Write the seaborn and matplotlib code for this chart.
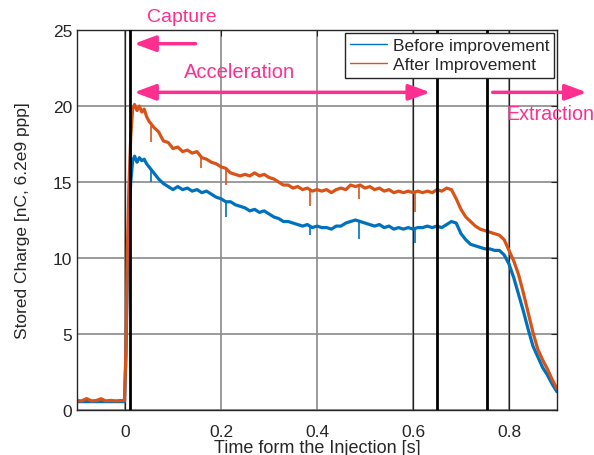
import numpy as np
import pandas as pd
import matplotlib
matplotlib.use("Agg")
import matplotlib.pyplot as plt
import seaborn as sns
from matplotlib.patches import ArrowStyle

# time axis [s]
time_s = [-0.100, -0.090, -0.080, -0.070, -0.060, -0.050, -0.040, -0.030, -0.020, -0.010, -0.001,
          0.002, 0.005, 0.008, 0.012, 0.016, 0.020, 0.025, 0.030, 0.035, 0.040, 0.045, 0.050,
          0.06, 0.07, 0.08, 0.09, 0.10, 0.11, 0.12, 0.13, 0.14, 0.15,
          0.16, 0.17, 0.18, 0.19, 0.20, 0.21, 0.22, 0.23, 0.24, 0.25,
          0.26, 0.27, 0.28, 0.29, 0.30, 0.31, 0.32, 0.33, 0.34, 0.35,
          0.36, 0.37, 0.38, 0.39, 0.40, 0.41, 0.42, 0.43, 0.44, 0.45,
          0.46, 0.47, 0.48, 0.49, 0.50, 0.51, 0.52, 0.53, 0.54, 0.55,
          0.56, 0.57, 0.58, 0.59, 0.60, 0.61, 0.62, 0.63, 0.64, 0.65,
          0.66, 0.67, 0.68, 0.69, 0.70, 0.71, 0.72, 0.73, 0.74, 0.75,
          0.76, 0.77, 0.78, 0.79, 0.80, 0.81, 0.82, 0.83, 0.84, 0.85,
          0.86, 0.87, 0.88, 0.89, 0.90]

before = [0.55, 0.55, 0.55, 0.55, 0.55, 0.55, 0.55, 0.55, 0.55, 0.55, 0.55,
          3.5, 9.0, 12.5, 15.0, 16.4, 16.7, 16.3, 16.6, 16.4, 16.5, 16.2, 16.0,
          15.6, 15.2, 14.9, 14.7, 14.5, 14.7, 14.5, 14.6, 14.4, 14.5,
          14.3, 14.4, 14.2, 14.0, 13.9, 13.7, 13.7, 13.5, 13.4, 13.3,
          13.1, 13.2, 13.0, 13.1, 12.9, 12.7, 12.6, 12.4, 12.4, 12.3,
          12.2, 12.1, 12.2, 12.0, 12.1, 12.0, 12.0, 11.9, 12.1, 12.1,
          12.3, 12.4, 12.5, 12.4, 12.3, 12.2, 12.1, 12.2, 12.0, 12.1,
          11.9, 12.0, 11.9, 12.0, 11.9, 12.0, 12.0, 12.1, 12.0, 12.1,
          12.0, 12.2, 12.4, 12.3, 11.6, 11.2, 10.9, 10.8, 10.7, 10.6,
          10.6, 10.5, 10.5, 10.2, 9.6, 8.7, 7.6, 6.5, 5.3, 4.2,
          3.5, 2.8, 2.3, 1.7, 1.2]

after = [0.62, 0.60, 0.75, 0.60, 0.62, 0.74, 0.60, 0.63, 0.60, 0.62, 0.62,
         4.0, 10.5, 14.5, 18.0, 19.8, 20.1, 19.7, 20.0, 19.6, 19.8, 19.3, 19.0,
         18.6, 18.3, 17.7, 17.6, 17.2, 17.3, 17.0, 17.1, 16.9, 17.0,
         16.6, 16.5, 16.3, 16.2, 16.0, 15.9, 15.6, 15.5, 15.4, 15.5,
         15.4, 15.6, 15.4, 15.5, 15.3, 15.2, 15.0, 14.8, 14.8, 14.6,
         14.7, 14.5, 14.6, 14.4, 14.5, 14.4, 14.5, 14.3, 14.5, 14.6,
         14.5, 14.8, 14.7, 14.8, 14.6, 14.7, 14.5, 14.6, 14.4, 14.5,
         14.3, 14.4, 14.3, 14.4, 14.3, 14.4, 14.3, 14.4, 14.3, 14.5,
         14.4, 14.6, 14.5, 13.9, 13.2, 12.7, 12.4, 12.1, 11.9, 11.8,
         11.7, 11.6, 11.5, 11.2, 10.5, 9.8, 8.9, 7.7, 6.4, 5.1,
         4.0, 3.3, 2.7, 2.0, 1.4]

# short downward glitches seen in the traces
before_spike_t = [0.054, 0.21, 0.386, 0.488, 0.604]
before_spike_top = [15.9, 13.7, 12.1, 12.4, 11.9]
before_spike_low = [15.0, 12.7, 11.5, 11.25, 11.0]
after_spike_t = [0.054, 0.158, 0.21, 0.386, 0.488, 0.604]
after_spike_top = [18.7, 16.6, 15.9, 14.5, 14.8, 14.3]
after_spike_low = [17.6, 15.9, 14.8, 13.4, 13.9, 13.0]

labels = ["Before improvement", "After Improvement"]
blue = "#0072BD"
orange = "#D95319"
pink = "#FF2E8F"

df = pd.DataFrame({
    "t": time_s + time_s,
    "q": before + after,
    "run": [labels[0]] * len(time_s) + [labels[1]] * len(time_s),
})

sns.set_style("white")
plt.rcParams["font.family"] = ["Liberation Sans", "DejaVu Sans"]

fig = plt.figure(figsize=(5.94, 4.56), dpi=100)
ax = fig.add_axes([0.1296, 0.0987, 0.8081, 0.8333])

sns.lineplot(data=df, x="t", y="q", hue="run", palette=[blue, orange],
             linewidth=2.3, ax=ax, legend=False, sort=False, estimator=None)
ax.vlines(before_spike_t, before_spike_low, before_spike_top, color=blue, lw=1.2)
ax.vlines(after_spike_t, after_spike_low, after_spike_top, color=orange, lw=1.2)

ax.set_xlim(-0.1, 0.9)
ax.set_ylim(0, 25)
ax.set_xticks([0, 0.2, 0.4, 0.6, 0.8])
ax.set_xticklabels(["0", "0.2", "0.4", "0.6", "0.8"])
ax.set_yticks([0, 5, 10, 15, 20, 25])
ax.grid(True, color="#8a8a8a", lw=1.2)
ax.set_axisbelow(True)
ax.tick_params(direction="in", length=4, labelsize=12.5, colors="#262626",
               top=True, right=True)
ax.tick_params(axis="x", pad=10)
for s in ax.spines.values():
    s.set_color("#262626")
    s.set_linewidth(1.0)

# marker lines
for x in [0.0, 0.6, 0.8]:
    ax.axvline(x, color="#222222", lw=0.9, zorder=1)
for x in [0.01, 0.65, 0.755]:
    ax.axvline(x, color="black", lw=2.0, zorder=3)

ax.set_xlabel("Time form the Injection [s]", fontsize=13, color="#262626", labelpad=0)
ax.set_ylabel("Stored Charge [nC, 6.2e9 ppp]", fontsize=12.5, color="#262626", labelpad=16)

style = ArrowStyle("-|>", head_length=0.65, head_width=0.24)
dstyle = ArrowStyle("<|-|>", head_length=0.65, head_width=0.24)
ap = dict(color=pink, lw=2.5, mutation_scale=20, shrinkA=0, shrinkB=0)
ax.annotate("", xy=(0.019, 24.1), xytext=(0.147, 24.1),
            arrowprops=dict(arrowstyle=style, **ap), annotation_clip=False)
ax.annotate("", xy=(0.636, 20.9), xytext=(0.019, 20.9),
            arrowprops=dict(arrowstyle=dstyle, **ap), annotation_clip=False)
ax.annotate("", xy=(0.962, 20.9), xytext=(0.766, 20.9),
            arrowprops=dict(arrowstyle=style, **ap), annotation_clip=False)
ax.text(0.118, 25.9, "Capture", color=pink, fontsize=14, ha="center", va="center", clip_on=False)
ax.text(0.239, 22.3, "Acceleration", color=pink, fontsize=14.5, ha="center", va="center")
ax.text(0.795, 19.5, "Extraction", color=pink, fontsize=14.2, ha="left", va="center", clip_on=False)

handles = [plt.Line2D([], [], color=blue, lw=1), plt.Line2D([], [], color=orange, lw=1)]
leg = ax.legend(handles, labels, loc="upper right", fontsize=12.5, frameon=True, fancybox=False,
                edgecolor="#262626", framealpha=1, borderpad=0.3, handlelength=2.1,
                handletextpad=0.35, labelspacing=0.25, borderaxespad=0.15)
leg.get_frame().set_linewidth(1.0)

fig.savefig("out.png", dpi=100)
